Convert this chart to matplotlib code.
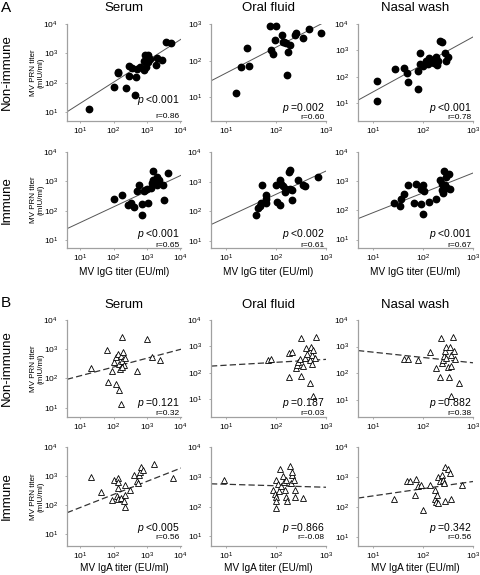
import matplotlib
matplotlib.use('Agg')
import matplotlib.pyplot as plt
import numpy as np
from matplotlib.ticker import FixedLocator, FixedFormatter, NullLocator

plt.rcParams['font.family'] = ['Liberation Sans', 'DejaVu Sans']
plt.rcParams['mathtext.fontset'] = 'custom'
plt.rcParams['mathtext.rm'] = 'Liberation Sans'
plt.rcParams['mathtext.it'] = 'Liberation Sans:italic'

# ---------------- data ----------------
columns = ['Serum', 'Oral fluid', 'Nasal wash']
row_labels = ['Non-immune', 'Immune', 'Non-immune', 'Immune']
ylabel_text = 'MV PRN titer\n(mIU/ml)'
xlabel_igg = 'MV IgG titer (EU/ml)'
xlabel_iga = 'MV IgA titer (EU/ml)'

# Panel A, IgG vs PRN, non-immune
a_serum_non_x = [18, 100, 240, 450, 135, 140, 300, 300, 355, 480, 500, 630, 930, 800, 850, 890, 1120, 1120, 1260, 1900, 2100, 2950, 3700, 5400]
a_serum_non_y = [13, 71, 65, 39, 215, 240, 175, 365, 315, 155, 295, 340, 340, 275, 540, 890, 525, 890, 645, 410, 675, 615, 2400, 2200]
a_oral_non_x = [15.5, 19.5, 26, 28, 74, 100, 79, 85, 93, 132, 135, 155, 170, 186, 166, 235, 250, 340, 450, 800, 145]
a_oral_non_y = [13, 66, 225, 72, 870, 870, 200, 150, 370, 500, 315, 300, 178, 270, 40, 510, 560, 405, 710, 560, 330]
a_nasal_non_x = [12.3, 12.3, 28, 41, 47, 51, 78, 78, 87, 87, 102, 115, 126, 132, 145, 158, 166, 178, 190, 215, 240, 270, 295, 310, 200]
a_nasal_non_y = [69, 12.6, 190, 210, 145, 65, 170, 36, 300, 810, 257, 400, 315, 500, 355, 445, 330, 560, 280, 2350, 2050, 810, 400, 550, 400]
# Panel A, IgG vs PRN, immune
a_serum_imm_x = [105, 185, 270, 340, 425, 500, 600, 800, 710, 710, 1120, 1050, 1320, 1400, 1500, 1580, 2000, 2100, 2400, 3160, 3400, 4270, 890]
a_serum_imm_y = [245, 355, 155, 185, 135, 455, 740, 455, 175, 74, 185, 540, 615, 910, 1150, 2200, 775, 1400, 1100, 740, 240, 1860, 500]
a_oral_imm_x = [40, 43, 47, 50, 51, 62, 63, 63, 100, 102, 118, 120, 126, 135, 148, 155, 186, 178, 190, 210, 210, 270, 340, 370, 675]
a_oral_imm_y = [78, 135, 158, 190, 760, 350, 270, 190, 760, 210, 170, 1175, 870, 710, 445, 590, 590, 2140, 2400, 250, 510, 1120, 760, 710, 1450]
a_nasal_imm_x = [26, 34, 37, 42, 49, 65, 74, 91, 93, 98, 100, 107, 129, 186, 215, 235, 235, 265, 290, 275, 330, 345, 250, 300]
a_nasal_imm_y = [178, 138, 250, 355, 760, 178, 830, 560, 170, 74, 725, 445, 195, 250, 1070, 830, 490, 2240, 1380, 725, 1740, 560, 400, 600]
# Panel B, IgA vs PRN, non-immune
b_serum_non_x = [21, 63, 68, 93, 100, 120, 120, 141, 148, 148, 158, 166, 170, 178, 186, 190, 210, 215, 178, 500, 1000, 1410, 2510]
b_serum_non_y = [235, 930, 78, 178, 370, 525, 65, 690, 310, 40, 205, 590, 13, 400, 2570, 810, 290, 510, 240, 180, 2190, 550, 425]
b_oral_non_x = [68, 79, 178, 204, 178, 250, 257, 270, 295, 310, 310, 340, 370, 400, 415, 470, 490, 525, 535, 560, 480, 560, 630, 590]
b_oral_non_y = [300, 325, 550, 600, 71, 148, 200, 263, 325, 76, 2140, 182, 355, 850, 510, 300, 930, 210, 470, 725, 43, 13, 2340, 355]
b_nasal_non_x = [41, 49, 78, 135, 186, 215, 230, 235, 257, 263, 275, 290, 295, 310, 325, 340, 370, 365, 370, 390, 410, 435, 535]
b_nasal_non_y = [340, 340, 315, 600, 158, 69, 2090, 235, 315, 455, 710, 930, 370, 166, 74, 930, 500, 14, 190, 2340, 710, 340, 42]
# Panel B, IgA vs PRN, immune
b_serum_imm_x = [21, 42, 89, 100, 126, 132, 132, 132, 141, 166, 215, 215, 225, 315, 425, 500, 560, 600, 630, 675, 760, 1700, 6300, 200]
b_serum_imm_y = [955, 275, 150, 740, 195, 870, 615, 380, 162, 178, 470, 225, 83, 315, 1050, 690, 560, 1050, 1350, 2040, 1550, 2570, 850, 140]
b_oral_imm_x = [9, 85, 93, 100, 98, 100, 100, 107, 112, 120, 126, 135, 141, 148, 155, 158, 166, 190, 200, 204, 210, 225, 235, 235, 340]
b_oral_imm_y = [760, 370, 257, 210, 155, 89, 760, 590, 330, 1860, 510, 1070, 675, 355, 210, 795, 155, 2240, 615, 1175, 1450, 795, 370, 210, 195]
b_nasal_imm_x = [26, 47, 56, 68, 71, 78, 91, 98, 135, 170, 174, 178, 190, 195, 204, 220, 235, 257, 263, 270, 275, 310, 340, 355, 615]
b_nasal_imm_y = [190, 725, 725, 257, 830, 500, 550, 78, 550, 365, 190, 148, 257, 135, 1000, 725, 1200, 775, 630, 2140, 155, 1900, 1380, 190, 525]

# regression lines (log10 y = intercept + slope * log10 x), row order A-non, A-imm, B-non, B-imm
fit_intercepts = [0.58, 0.97, 0.39,
                  1.07, 1.02, 1.24,
                  1.79, 2.18, 2.99,
                  1.46, 2.80, 2.13]
fit_slopes = [0.72, 0.70, 1.04,
              0.53, 0.78, 0.68,
              0.30, 0.11, -0.20,
              0.45, -0.05, 0.24]
p_labels = ['<0.001', '=0.002', '<0.001',
            '<0.001', '<0.002', '<0.001',
            '=0.121', '=0.187', '=0.882',
            '<0.005', '=0.866', '=0.342']
r_labels = ['0.86', '0.60', '0.78',
            '0.65', '0.61', '0.67',
            '0.32', '0.03', '0.38',
            '0.56', '-0.08', '0.56']

panel_x = [a_serum_non_x, a_oral_non_x, a_nasal_non_x,
           a_serum_imm_x, a_oral_imm_x, a_nasal_imm_x,
           b_serum_non_x, b_oral_non_x, b_nasal_non_x,
           b_serum_imm_x, b_oral_imm_x, b_nasal_imm_x]
panel_y = [a_serum_non_y, a_oral_non_y, a_nasal_non_y,
           a_serum_imm_y, a_oral_imm_y, a_nasal_imm_y,
           b_serum_non_y, b_oral_non_y, b_nasal_non_y,
           b_serum_imm_y, b_oral_imm_y, b_nasal_imm_y]

# ---------------- layout ----------------
W, H = 480, 575
fig = plt.figure(figsize=(W / 100, H / 100), dpi=100)

def px_rect(l, t, w, h):
    return [l / W, 1 - (t + h) / H, w / W, h / H]

col_left = [67, 211, 358]
col_w = [114, 115, 115]
row_top = [24, 152, 320, 447]
row_bot = [121, 248, 417, 546]
xlim_log = [(0.6, 4.03), (0.69, 3.0), (0.7, 3.0)]
ylim_bot = [[0.70, 0.36, 0.33],
            [0.73, 0.77, 0.71],
            [0.68, 0.33, 0.35],
            [0.58, 0.68, 0.70]]
ylim_top = [[4, 3, 4], [4, 4, 4], [4, 4, 4], [4, 4, 4]]
p_ypos = [[0.22, 0.134, 0.134], [0.145, 0.145, 0.145], [0.144, 0.144, 0.144], [0.18, 0.18, 0.18]]
r_ypos = [[0.05, 0.04, 0.04], [0.03, 0.03, 0.03], [0.04, 0.04, 0.04], [0.085, 0.085, 0.085]]

spine_col = '#a0a0a0'

for r in range(4):
    for c in range(3):
        i = r * 3 + c
        ax = fig.add_axes(px_rect(col_left[c], row_top[r], col_w[c], row_bot[r] - row_top[r]))
        ax.set_xscale('log')
        ax.set_yscale('log')
        x0, x1 = 10 ** xlim_log[c][0], 10 ** xlim_log[c][1]
        y0, y1 = 10 ** ylim_bot[r][c], 10 ** ylim_top[r][c]
        ax.set_xlim(x0, x1)
        ax.set_ylim(y0, y1)
        for s in ['top', 'right']:
            ax.spines[s].set_visible(False)
        for s in ['left', 'bottom']:
            ax.spines[s].set_color(spine_col)
            ax.spines[s].set_linewidth(0.9)
        xt = list(range(1, int(np.floor(xlim_log[c][1] + 1e-9)) + 1))
        yt = list(range(int(np.ceil(ylim_bot[r][c])), ylim_top[r][c] + 1))
        ax.xaxis.set_major_locator(FixedLocator([10.0 ** k for k in xt]))
        ax.xaxis.set_major_formatter(FixedFormatter([r'$\mathregular{10^{%d}}$' % k for k in xt]))
        ax.yaxis.set_major_locator(FixedLocator([10.0 ** k for k in yt]))
        ax.yaxis.set_major_formatter(FixedFormatter([r'$\mathregular{10^{%d}}$' % k for k in yt]))
        ax.xaxis.set_minor_locator(NullLocator())
        ax.yaxis.set_minor_locator(NullLocator())
        ax.tick_params(axis='both', length=1.5, width=0.6, color=spine_col, labelsize=6, colors='black')
        ax.tick_params(axis='y', pad=5)
        ax.tick_params(axis='x', pad=2)

        # regression line
        lx = np.array([x0, x1])
        ly = 10 ** (fit_intercepts[i] + fit_slopes[i] * np.log10(lx))
        if r < 2:
            ax.plot(lx, ly, color='#555555', lw=0.7, zorder=1)
            ax.plot(panel_x[i], panel_y[i], 'o', color='black', ms=4.6, mec='black', zorder=3, clip_on=False)
        else:
            ax.plot(lx, ly, color='#333333', lw=0.9, dashes=(5, 2.5), zorder=1)
            ax.plot(panel_x[i], panel_y[i], '^', mfc='white', mec='black', mew=0.6, ms=5, zorder=3, clip_on=False)

        ax.text(0.99, p_ypos[r][c], r'$\mathit{p}$ ' + p_labels[i], transform=ax.transAxes,
                ha='right', va='center', fontsize=7.5)
        ax.text(0.99, r_ypos[r][c], 'r=' + r_labels[i], transform=ax.transAxes,
                ha='right', va='center', fontsize=6)

# column titles
for c in range(3):
    cx = (col_left[c] + col_w[c] / 2) / W
    fig.text(cx, 1 - 8 / H, columns[c], ha='center', va='center', fontsize=9.5)
    fig.text(cx, 1 - 305 / H, columns[c], ha='center', va='center', fontsize=9.5)
    fig.text(cx, 1 - 272 / H, xlabel_igg, ha='center', va='center', fontsize=7.2)
    fig.text(cx, 1 - 568 / H, xlabel_iga, ha='center', va='center', fontsize=7.2)

# row labels and y labels
for r in range(4):
    cy = 1 - (row_top[r] + row_bot[r]) / 2 / H
    fig.text(7 / W, cy, row_labels[r], rotation=90, ha='center', va='center', fontsize=9.5)
    fig.text(37 / W, cy, ylabel_text, rotation=90, ha='center', va='center', fontsize=5.8,
             multialignment='center', linespacing=1.15)

fig.text(6 / W, 1 - 8 / H, 'A', ha='center', va='center', fontsize=11)
fig.text(6 / W, 1 - 303 / H, 'B', ha='center', va='center', fontsize=11)

fig.savefig('out.png', dpi=100)
